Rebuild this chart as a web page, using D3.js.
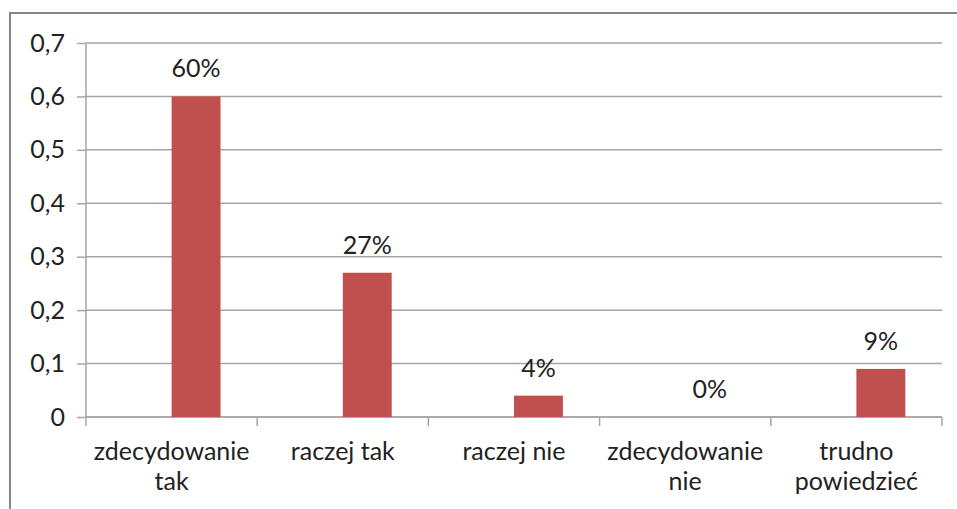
<!DOCTYPE html>
<html>
<head>
<meta charset="utf-8">
<script src="https://cdn.jsdelivr.net/npm/d3@7"></script>
<style>
  body { margin: 0; background: #fff; }
  svg text { font-family: Lato, "Open Sans", sans-serif; fill: #222; }
</style>
</head>
<body>
<div class="chart"></div>
<script>
// chart data
var categories = [["zdecydowanie", "tak"], ["raczej tak"], ["raczej nie"], ["zdecydowanie", "nie"], ["trudno", "powiedzieć"]];
var values = [0.60, 0.27, 0.04, 0, 0.09];
var valueLabels = ["60%", "27%", "4%", "0%", "9%"];
var yTicks = [0, 0.1, 0.2, 0.3, 0.4, 0.5, 0.6, 0.7];

var svgWidth = 957, svgHeight = 509;
var margin = { top: 43, right: 15, bottom: 92, left: 86 };
var width = 942 - margin.left;
var height = 417 - margin.top;

var svg = d3.select(".chart")
    .append("svg")
    .attr("width", svgWidth)
    .attr("height", svgHeight);

// outer frame (runs off the right and bottom edge)
svg.append("rect")
    .attr("x", 10).attr("y", 13)
    .attr("width", 1000).attr("height", 600)
    .attr("fill", "none")
    .attr("stroke", "#868686")
    .attr("stroke-width", 2);

var chartGroup = svg.append("g")
    .attr("transform", `translate(${margin.left}, ${margin.top})`);

var x = d3.scaleBand()
    .domain(d3.range(categories.length))
    .range([0, width]);

var y = d3.scaleLinear()
    .domain([0, 0.7])
    .range([height, 0]);

// gridlines
chartGroup.selectAll(".grid")
    .data(yTicks)
    .enter()
    .append("line")
    .attr("x1", 0).attr("x2", width)
    .attr("y1", d => y(d)).attr("y2", d => y(d))
    .attr("stroke", "#a6a6a6")
    .attr("stroke-width", 1.5);

// y axis
var yAxis = d3.axisLeft(y)
    .tickValues(yTicks)
    .tickSize(9)
    .tickPadding(12)
    .tickFormat(d => d === 0 ? "0" : d3.format(".1f")(d).replace(".", ","));

var yg = chartGroup.append("g").call(yAxis);
yg.select(".domain").attr("stroke", "#a6a6a6").attr("stroke-width", 1.5).attr("d", `M0,${height}V0`);
yg.selectAll(".tick line").attr("stroke", "#a6a6a6").attr("stroke-width", 1.5);
yg.selectAll(".tick text").style("font-size", "25px").attr("fill", "#222");

// x axis line with boundary ticks
chartGroup.append("line")
    .attr("x1", 0).attr("x2", width)
    .attr("y1", height).attr("y2", height)
    .attr("stroke", "#a6a6a6").attr("stroke-width", 1.5);

var bounds = d3.range(categories.length + 1);
chartGroup.selectAll(".xtick")
    .data(bounds)
    .enter()
    .append("line")
    .attr("x1", d => d * x.bandwidth()).attr("x2", d => d * x.bandwidth())
    .attr("y1", height).attr("y2", height + 9)
    .attr("stroke", "#a6a6a6").attr("stroke-width", 1.5);

// category labels
var catText = chartGroup.selectAll(".cat")
    .data(categories)
    .enter()
    .append("text")
    .attr("text-anchor", "middle")
    .style("font-size", "25px")
    .attr("transform", (d, i) => `translate(${x(i) + x.bandwidth() / 2}, ${height + 43})`);

catText.selectAll("tspan")
    .data(d => d)
    .enter()
    .append("tspan")
    .attr("x", 0)
    .attr("dy", (d, i) => i === 0 ? 0 : 30)
    .text(d => d);

// bars: second series of a clustered pair, first one empty
var barW = x.bandwidth() / 3.5;
chartGroup.selectAll(".bar")
    .data(values)
    .enter()
    .append("rect")
    .attr("x", (d, i) => x(i) + x.bandwidth() / 2)
    .attr("y", d => y(d))
    .attr("width", barW)
    .attr("height", d => height - y(d))
    .attr("fill", "#c0504d");

// value labels
chartGroup.selectAll(".val")
    .data(values)
    .enter()
    .append("text")
    .attr("text-anchor", "middle")
    .style("font-size", "25px")
    .attr("x", (d, i) => x(i) + x.bandwidth() / 2 + barW / 2)
    .attr("y", d => y(d) - 19)
    .text((d, i) => valueLabels[i]);
</script>
</body>
</html>
